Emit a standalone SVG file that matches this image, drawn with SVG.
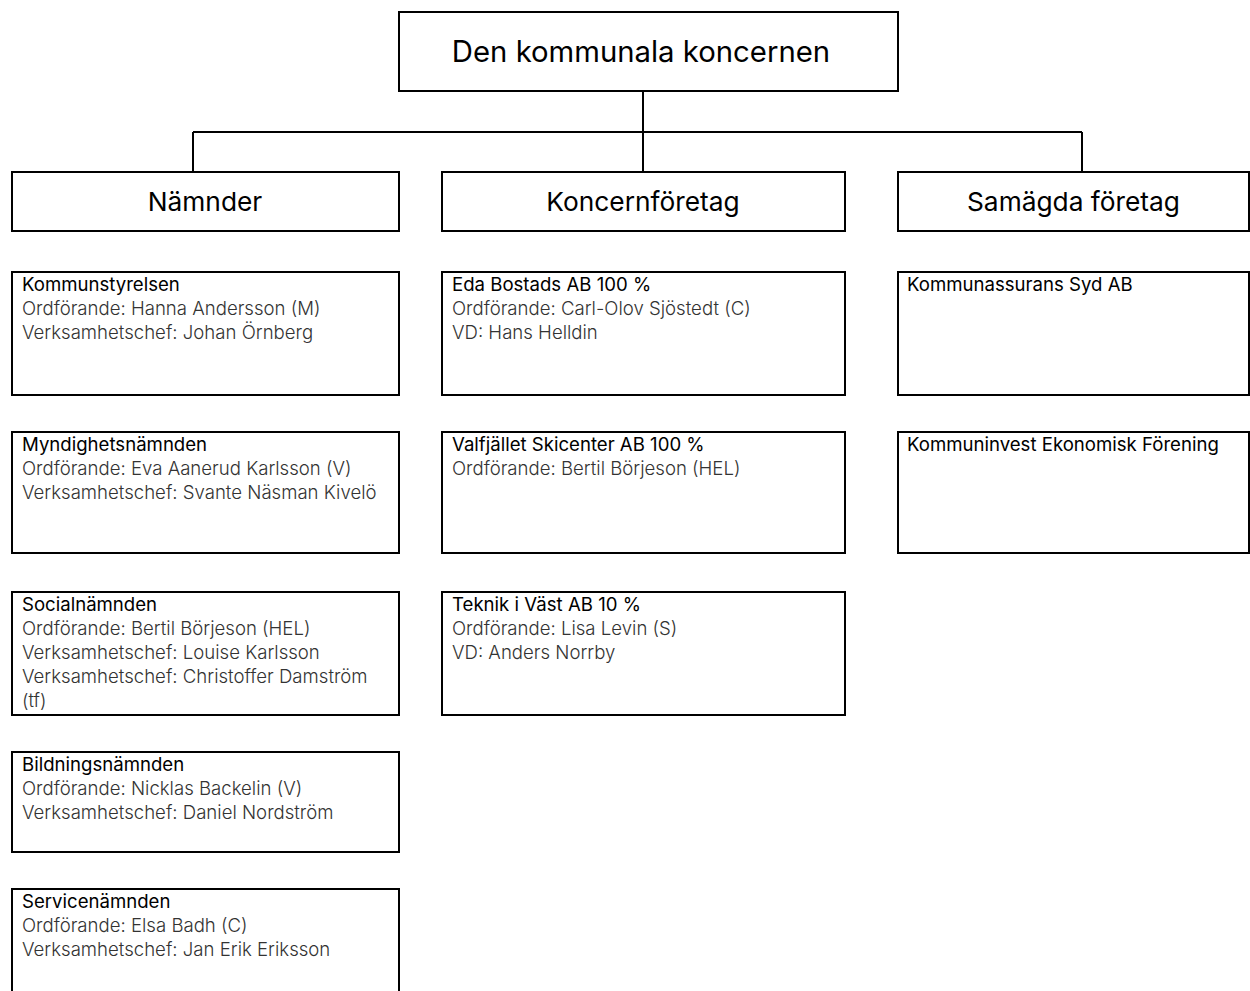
<svg xmlns="http://www.w3.org/2000/svg" width="1250" height="991" viewBox="0 0 1250 991">
<style>
.box{fill:#fff;stroke:#000;stroke-width:2}
.con{fill:none;stroke:#000;stroke-width:2}
.title{font-family:Inter,"Liberation Sans",sans-serif;font-size:29.3px;fill:#000;text-anchor:middle}
.head{font-family:Inter,"Liberation Sans",sans-serif;font-size:26.3px;fill:#000;text-anchor:middle}
.name{font-family:Inter,"Liberation Sans",sans-serif;font-size:18.6px;fill:#000}
.info{font-family:Inter,"Liberation Sans",sans-serif;font-size:18.6px;font-weight:300;fill:#333}
</style>
<rect width="1250" height="991" fill="#fff"/>
<g id="connectors">
<path class="con" d="M643,91 V172 M193,132 H1082 M193,132 V172 M1082,132 V172"/>
</g>
<g id="root"><rect class="box" x="399" y="12" width="499" height="79"/><text class="title" x="641" y="62">Den kommunala koncernen</text></g>
<g id="namnder"><rect class="box" x="12" y="172" width="387" height="59"/><text class="head" x="205" y="211">Nämnder</text></g>
<g id="koncernforetag"><rect class="box" x="442" y="172" width="403" height="59"/><text class="head" x="643" y="211">Koncernföretag</text></g>
<g id="samagda"><rect class="box" x="898" y="172" width="351" height="59"/><text class="head" x="1073.5" y="211">Samägda företag</text></g>

<g id="kommunstyrelsen"><rect class="box" x="12" y="272" width="387" height="123"/>
<text class="name" x="22" y="291">Kommunstyrelsen</text>
<text class="info" x="22" y="315">Ordförande: Hanna Andersson (M)</text>
<text class="info" x="22" y="339">Verksamhetschef: Johan Örnberg</text></g>
<g id="myndighetsnamnden"><rect class="box" x="12" y="432" width="387" height="121"/>
<text class="name" x="22" y="451">Myndighetsnämnden</text>
<text class="info" x="22" y="475">Ordförande: Eva Aanerud Karlsson (V)</text>
<text class="info" x="22" y="499">Verksamhetschef: Svante Näsman Kivelö</text></g>
<g id="socialnamnden"><rect class="box" x="12" y="592" width="387" height="123"/>
<text class="name" x="22" y="611">Socialnämnden</text>
<text class="info" x="22" y="635">Ordförande: Bertil Börjeson (HEL)</text>
<text class="info" x="22" y="659">Verksamhetschef: Louise Karlsson</text>
<text class="info" x="22" y="683">Verksamhetschef: Christoffer Damström</text>
<text class="info" x="22" y="707">(tf)</text></g>
<g id="bildningsnamnden"><rect class="box" x="12" y="752" width="387" height="100"/>
<text class="name" x="22" y="771">Bildningsnämnden</text>
<text class="info" x="22" y="795">Ordförande: Nicklas Backelin (V)</text>
<text class="info" x="22" y="819">Verksamhetschef: Daniel Nordström</text></g>
<g id="servicenamnden"><rect class="box" x="12" y="889" width="387" height="110"/>
<text class="name" x="22" y="908">Servicenämnden</text>
<text class="info" x="22" y="932">Ordförande: Elsa Badh (C)</text>
<text class="info" x="22" y="956">Verksamhetschef: Jan Erik Eriksson</text></g>

<g id="eda"><rect class="box" x="442" y="272" width="403" height="123"/>
<text class="name" x="452" y="291">Eda Bostads AB 100 %</text>
<text class="info" x="452" y="315">Ordförande: Carl-Olov Sjöstedt (C)</text>
<text class="info" x="452" y="339">VD: Hans Helldin</text></g>
<g id="valfjallet"><rect class="box" x="442" y="432" width="403" height="121"/>
<text class="name" x="452" y="451">Valfjället Skicenter AB 100 %</text>
<text class="info" x="452" y="475">Ordförande: Bertil Börjeson (HEL)</text></g>
<g id="teknik"><rect class="box" x="442" y="592" width="403" height="123"/>
<text class="name" x="452" y="611">Teknik i Väst AB 10 %</text>
<text class="info" x="452" y="635">Ordförande: Lisa Levin (S)</text>
<text class="info" x="452" y="659">VD: Anders Norrby</text></g>

<g id="kommunassurans"><rect class="box" x="898" y="272" width="351" height="123"/>
<text class="name" x="907" y="291">Kommunassurans Syd AB</text></g>
<g id="kommuninvest"><rect class="box" x="898" y="432" width="351" height="121"/>
<text class="name" x="907" y="451">Kommuninvest Ekonomisk Förening</text></g>
</svg>
